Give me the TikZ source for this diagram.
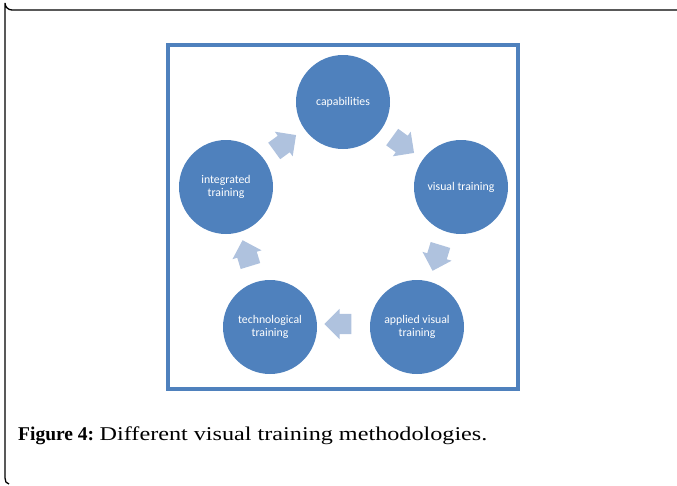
\documentclass[tikz,border=0pt]{standalone}
\usepackage{fontspec}
\setmainfont{Liberation Serif}
\newfontfamily\circfont{Carlito}
\newfontfamily\capfont[FakeStretch=1.24]{Liberation Serif}
\usetikzlibrary{shapes.arrows}
\definecolor{circblue}{HTML}{4F81BD}
\definecolor{arrblue}{HTML}{AFC2DE}
\tikzset{
  stage/.style={circle, fill=circblue, minimum size=94pt, inner sep=0pt,
    text=white, font=\circfont\fontsize{11.8}{13}\selectfont, align=center},
  blockarrow/.style={single arrow, fill=arrblue, draw=none, minimum height=27pt,
    inner xsep=0pt, inner ysep=10pt, single arrow head extend=5pt},
}
\begin{document}
\begin{tikzpicture}[x=1pt,y=-1pt]
\useasboundingbox (0,0) rectangle (677,485);
% outer frame (open)
\draw[line width=1.3pt, black] (677,10) -- (12,10) arc[start angle=90, end angle=180, radius=7] -- (5,478) to[out=-90,in=180] (9,484);
% inner blue frame
\draw[circblue, line width=3.5pt] (168,45) rectangle (518,389);
% stages
\node[stage] (cap) at (343,102) {capabilities};
\node[stage] (vis) at (461,187) {visual training};
\node[stage] (app) at (417,327) {applied visual\\training};
\node[stage] (tech) at (270,327) {technological\\training};
\node[stage] (int) at (226,187) {integrated\\training};
% arrows
\node[blockarrow, rotate=-36] (a1) at (399,142) {};
\node[blockarrow, rotate=-107] (a2) at (438,253) {};
\node[blockarrow, rotate=180] (a3) at (343,324) {};
\node[blockarrow, rotate=107] (a4) at (248,258) {};
\node[blockarrow, rotate=36] (a5) at (281,146) {};
% caption
\node[anchor=base west, inner sep=0pt, font=\fontsize{19.5}{23}\selectfont] (cap4) at (18,440) {\textbf{Figure 4:}\hspace{-1pt} {\capfont Different visual training methodologies.}};
\end{tikzpicture}
\end{document}
